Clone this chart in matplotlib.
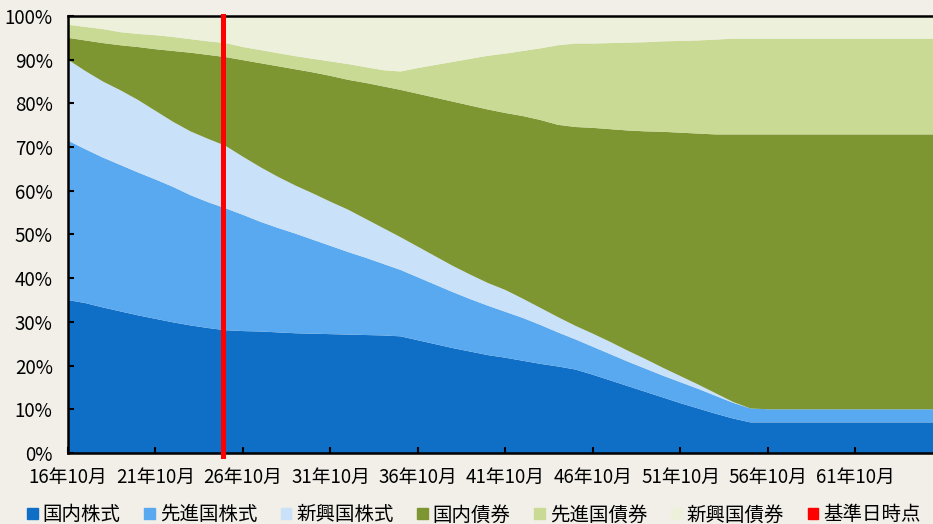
import numpy as np
import matplotlib
matplotlib.use("Agg")
import matplotlib.pyplot as plt
import matplotlib.patches as patches

plt.rcParams["font.family"] = ["Noto Sans CJK JP", "DejaVu Sans"]

# share of each asset class (%), one value per year from 16年10月
dom_equity = [35.0, 34.3, 33.3, 32.4, 31.5, 30.7, 29.9, 29.2, 28.6, 28.1,
              27.9, 27.8, 27.6, 27.4, 27.3, 27.2, 27.1, 27.0, 26.9, 26.7,
              25.8, 24.9, 24.0, 23.2, 22.4, 21.8, 21.1, 20.4, 19.8, 19.1,
              17.9, 16.6, 15.3, 14.0, 12.7, 11.4, 10.2, 9.0, 7.9, 7.0,
              7.0, 7.0, 7.0, 7.0, 7.0, 7.0, 7.0, 7.0, 7.0, 7.0, 7.0]
dev_equity = [36.5, 35.2, 34.3, 33.5, 32.7, 31.9, 31.0, 29.8, 28.8, 27.9,
              26.6, 25.1, 23.9, 22.8, 21.5, 20.2, 18.9, 17.7, 16.4, 15.2,
              14.4, 13.6, 12.8, 12.0, 11.3, 10.5, 9.8, 8.9, 7.8, 6.9,
              6.4, 6.0, 5.6, 5.3, 5.0, 4.8, 4.5, 4.1, 3.6, 3.2,
              3.0, 3.0, 3.0, 3.0, 3.0, 3.0, 3.0, 3.0, 3.0, 3.0, 3.0]
em_equity = [18.5, 17.9, 17.4, 17.1, 16.6, 15.7, 14.9, 14.6, 14.5, 14.3,
             13.3, 12.5, 11.7, 11.0, 10.6, 10.1, 9.7, 8.9, 8.2, 7.5,
             7.0, 6.5, 6.0, 5.6, 5.2, 5.0, 4.4, 3.9, 3.5, 3.1,
             3.0, 2.8, 2.5, 2.2, 1.8, 1.4, 1.0, 0.6, 0.2, 0.0,
             0.0, 0.0, 0.0, 0.0, 0.0, 0.0, 0.0, 0.0, 0.0, 0.0, 0.0]
dom_bond = [5.0, 7.0, 8.8, 10.3, 12.1, 14.1, 16.2, 18.0, 19.2, 20.3,
            22.1, 23.8, 25.3, 26.6, 27.7, 28.8, 29.7, 31.1, 32.4, 33.7,
            35.0, 36.3, 37.6, 38.7, 39.7, 40.5, 41.8, 43.0, 44.0, 45.5,
            47.1, 48.7, 50.4, 52.1, 54.0, 55.7, 57.4, 59.2, 61.2, 62.7,
            62.9, 62.9, 62.9, 62.9, 62.9, 62.9, 62.9, 62.9, 62.9, 62.9, 62.9]
dev_bond = [3.0, 3.1, 3.2, 3.0, 3.0, 3.2, 3.2, 3.1, 3.1, 3.2,
            3.0, 3.0, 3.0, 3.0, 3.1, 3.3, 3.6, 3.6, 3.7, 4.2,
            5.9, 7.5, 9.1, 10.7, 12.3, 13.6, 14.9, 16.4, 18.2, 19.1,
            19.3, 19.7, 20.1, 20.4, 20.7, 21.0, 21.3, 21.7, 21.9, 21.9,
            21.9, 21.9, 21.9, 21.9, 21.9, 21.9, 21.9, 21.9, 21.9, 21.9, 21.9]
em_bond = [2.0, 2.5, 3.0, 3.7, 4.1, 4.4, 4.8, 5.3, 5.8, 6.2,
           7.1, 7.8, 8.5, 9.2, 9.8, 10.4, 11.0, 11.7, 12.4, 12.7,
           11.9, 11.2, 10.5, 9.8, 9.1, 8.6, 8.0, 7.4, 6.7, 6.3,
           6.3, 6.2, 6.1, 6.0, 5.8, 5.7, 5.6, 5.4, 5.2, 5.2,
           5.2, 5.2, 5.2, 5.2, 5.2, 5.2, 5.2, 5.2, 5.2, 5.2, 5.2]

labels = ["国内株式", "先進国株式", "新興国株式", "国内債券", "先進国債券", "新興国債券"]
colors = ["#0f6fc6", "#59a9f1", "#c9e2fa", "#7e9632", "#c9da94", "#edf1db"]
tick_labels = ["16年10月", "21年10月", "26年10月", "31年10月", "36年10月",
               "41年10月", "46年10月", "51年10月", "56年10月", "61年10月"]
base_date = 8.86  # 基準日時点 (years after 16年10月)
ref_label = "基準日時点"

bg = "#f2eee8"
fig = plt.figure(figsize=(9.33, 5.24), dpi=100, facecolor=bg)
ax = fig.add_axes([68 / 933, 1 - 453 / 524, 1 - 68 / 933, 437 / 524])
ax.set_facecolor(bg)

t = np.arange(len(dom_equity))
ax.stackplot(t, dom_equity, dev_equity, em_equity, dom_bond, dev_bond, em_bond,
             colors=colors, linewidth=0)
ax.axvline(base_date, ymin=-0.007, ymax=1, color="#ff0000", lw=3.6,
           clip_on=False, zorder=5)

ax.set_xlim(0, 49.43)
ax.set_ylim(0, 100)
ax.set_xticks(np.arange(0, 50, 5))
ax.set_xticklabels(tick_labels)
ax.set_yticks(np.arange(0, 101, 10))
ax.set_yticklabels([f"{v}%" for v in range(0, 101, 10)])
ax.tick_params(axis="both", direction="in", length=4, width=1.5,
               labelsize=13.5, colors="black")
ax.tick_params(axis="y", pad=11)
ax.tick_params(axis="x", pad=10)
for s in ["left", "bottom", "top"]:
    ax.spines[s].set_linewidth(1.8)
ax.spines["right"].set_visible(False)

handles = [patches.Patch(color=c, label=l) for c, l in zip(colors, labels)]
handles.append(patches.Patch(color="#ff0000", label=ref_label))
fig.legend(handles=handles, loc="center left",
           bbox_to_anchor=(27 / 933, 1 - 515 / 524), ncol=7, frameon=False,
           fontsize=14, handlelength=0.55, handleheight=0.55,
           handletextpad=0.25, columnspacing=1.21, borderpad=0,
           borderaxespad=0)

fig.savefig("out.png", dpi=100, facecolor=bg)
